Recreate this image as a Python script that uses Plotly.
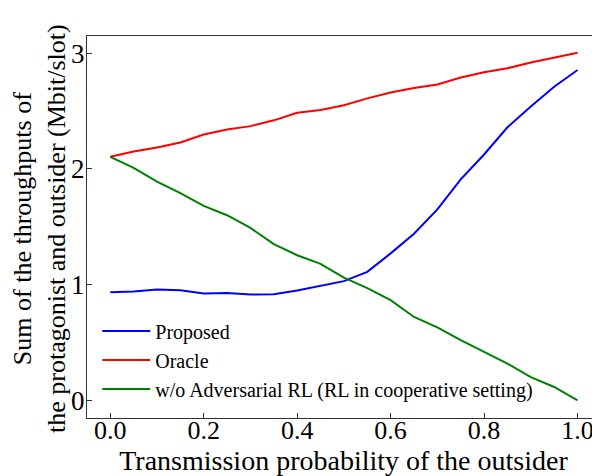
import plotly.graph_objects as go

x = [0.0, 0.05, 0.1, 0.15, 0.2, 0.25, 0.3, 0.35, 0.4, 0.45, 0.5,
     0.55, 0.6, 0.65, 0.7, 0.75, 0.8, 0.85, 0.9, 0.95, 1.0]

proposed = [0.935, 0.940, 0.957, 0.951, 0.923, 0.928, 0.914, 0.917, 0.950, 0.990, 1.030,
            1.110, 1.270, 1.440, 1.650, 1.910, 2.125, 2.360, 2.540, 2.710, 2.855]
oracle = [2.105, 2.150, 2.186, 2.229, 2.298, 2.340, 2.370, 2.420, 2.485, 2.510, 2.550,
          2.610, 2.660, 2.700, 2.730, 2.790, 2.835, 2.870, 2.920, 2.960, 3.005]
wo_adv = [2.105, 2.010, 1.890, 1.790, 1.680, 1.600, 1.490, 1.350, 1.254, 1.180, 1.060,
          0.969, 0.865, 0.720, 0.630, 0.520, 0.418, 0.317, 0.200, 0.115, 0.000]

names = ["Proposed", "Oracle", "w/o Adversarial RL (RL in cooperative setting)"]
colors = ["#0000ff", "#ff0000", "#008000"]
series = [proposed, oracle, wo_adv]

xticks = [0.0, 0.2, 0.4, 0.6, 0.8, 1.0]
xticklabels = ["0.0", "0.2", "0.4", "0.6", "0.8", "1.0"]
yticks = [0, 1, 2, 3]
yticklabels = ["0", "1", "2", "3"]

FONT = "Liberation Serif"

fig = go.Figure()
for n, c, s in zip(names, colors, series):
    fig.add_trace(go.Scatter(x=x, y=s, mode="lines", name=n,
                             line=dict(color=c, width=2)))

# The page body has an 8px default margin; size the figure to fill 600x476.
fig.update_layout(
    width=592, height=468,
    margin=dict(l=79, r=0, t=28, b=58),
    paper_bgcolor="white", plot_bgcolor="white",
    font=dict(family=FONT, size=26, color="black"),
    showlegend=True,
    legend=dict(x=0.02, y=0.025, xanchor="left", yanchor="bottom",
                bgcolor="rgba(255,255,255,0)", borderwidth=0,
                font=dict(family=FONT, size=20, color="black"),
                itemwidth=48, tracegroupgap=0),
    annotations=[dict(text="Sum of the throughputs of<br>the protagonist and outsider (Mbit/slot)",
                      textangle=-90, xref="paper", yref="paper", x=0, y=0.5,
                      xanchor="center", yanchor="middle", xshift=-48, yshift=-2,
                      showarrow=False, borderpad=0,
                      font=dict(family=FONT, size=26, color="black"))],
)
fig.update_xaxes(range=[-0.0498, 1.0481], tickvals=xticks, ticktext=xticklabels,
                 ticks="inside", ticklen=5, tickwidth=1, tickcolor="#333",
                 showline=True, linecolor="#333", linewidth=1, mirror=True,
                 showgrid=False, zeroline=False, automargin=False,
                 tickfont=dict(family=FONT, size=26), ticklabelstandoff=-11,
                 title=dict(text="Transmission probability of the outsider",
                            font=dict(family=FONT, size=28), standoff=0))
fig.update_yaxes(range=[-0.153, 3.149], tickvals=yticks, ticktext=yticklabels,
                 ticks="inside", ticklen=5, tickwidth=1, tickcolor="#333",
                 showline=True, linecolor="#333", linewidth=1, mirror=False,
                 showgrid=False, zeroline=False, automargin=False,
                 tickfont=dict(family=FONT, size=27), ticklabelstandoff=-4)

fig.write_html("out.html")
